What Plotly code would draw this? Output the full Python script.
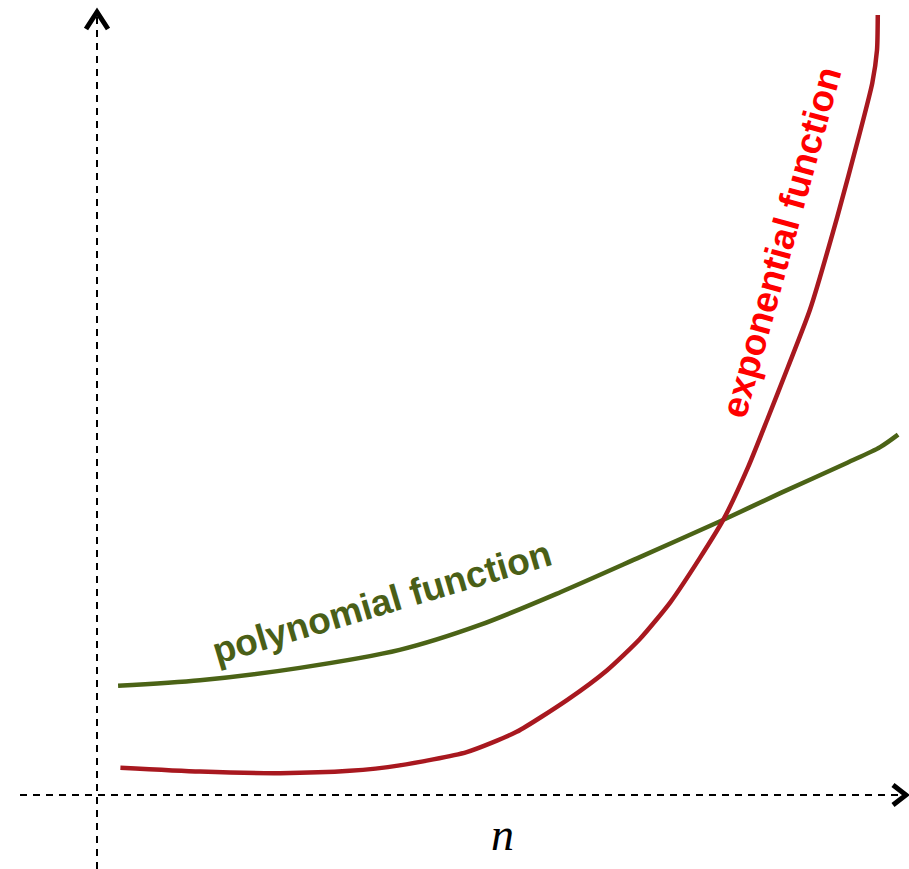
import plotly.graph_objects as go

# Values (n in abstract units, y in abstract units)
poly_n = [0.27, 1.32, 2.60, 3.88, 4.91, 5.94, 6.96, 7.99, 8.76, 9.62, 10.04, 10.27]
poly_y = [1.40, 1.47, 1.63, 1.86, 2.18, 2.60, 3.05, 3.51, 3.87, 4.26, 4.46, 4.62]

exp_n = [0.30, 1.32, 2.35, 3.24, 3.88, 4.74, 5.38, 6.03, 6.54, 6.96, 7.35, 7.73, 8.03, 8.35, 8.60,
         8.86, 9.14, 9.49, 9.78, 9.94, 10.00, 10.01]
exp_y = [0.35, 0.30, 0.28, 0.31, 0.38, 0.55, 0.81, 1.22, 1.60, 2.00, 2.47, 3.04, 3.53, 4.21, 4.83,
         5.49, 6.22, 7.41, 8.49, 9.13, 9.55, 10.00]

W, H = 909, 869
OX, OY, S = 97, 795, 78.0  # origin pixel & px per unit
x_range = [-OX / S, (W - OX) / S]
y_range = [-(H - OY) / S, OY / S]

def ux(px):
    return (px - OX) / S

def uy(py):
    return (OY - py) / S

fig = go.Figure()
fig.add_trace(go.Scatter(x=poly_n, y=poly_y, mode="lines", line=dict(color="#4b6316", width=4.5, shape="spline", smoothing=0.8),
                         hoverinfo="skip", showlegend=False))
fig.add_trace(go.Scatter(x=exp_n, y=exp_y, mode="lines", line=dict(color="#a8181f", width=4.5, shape="spline", smoothing=0.6),
                         hoverinfo="skip", showlegend=False))

shapes = [
    dict(type="line", x0=ux(20), x1=ux(900), y0=0, y1=0, line=dict(color="black", width=2, dash="7px,6px")),
    dict(type="line", x0=0, x1=0, y0=uy(869), y1=uy(14), line=dict(color="black", width=2, dash="7px,6px")),
    dict(type="path", path=f"M {ux(86)} {uy(29)} L {ux(97)} {uy(12)} L {ux(108)} {uy(29)}",
         line=dict(color="black", width=5)),
    dict(type="path", path=f"M {ux(893)} {uy(785)} L {ux(906)} {uy(795)} L {ux(893)} {uy(805)}",
         line=dict(color="black", width=5)),
]

annotations = [
    dict(x=ux(381), y=uy(602), text="<b>polynomial function</b>", showarrow=False, textangle=-16.5,
         font=dict(family="Liberation Sans, Arial", size=37, color="#4a5f17")),
    dict(x=ux(781), y=uy(242), text="<b>exponential function</b>", showarrow=False, textangle=-74.5,
         font=dict(family="Liberation Sans, Arial", size=37, color="#ff0000")),
    dict(x=ux(502), y=uy(834), text="<i>n</i>", showarrow=False,
         font=dict(family="Liberation Serif, Times New Roman", size=46, color="black")),
]

fig.update_layout(
    width=W, height=H, margin=dict(l=0, r=0, t=0, b=0),
    paper_bgcolor="white", plot_bgcolor="white",
    xaxis=dict(range=x_range, visible=False, fixedrange=True),
    yaxis=dict(range=y_range, visible=False, fixedrange=True),
    shapes=shapes, annotations=annotations,
)
fig.write_html("out.html", config={"displayModeBar": False},
               post_script="document.body.style.margin='0px';document.body.style.overflow='hidden';")
